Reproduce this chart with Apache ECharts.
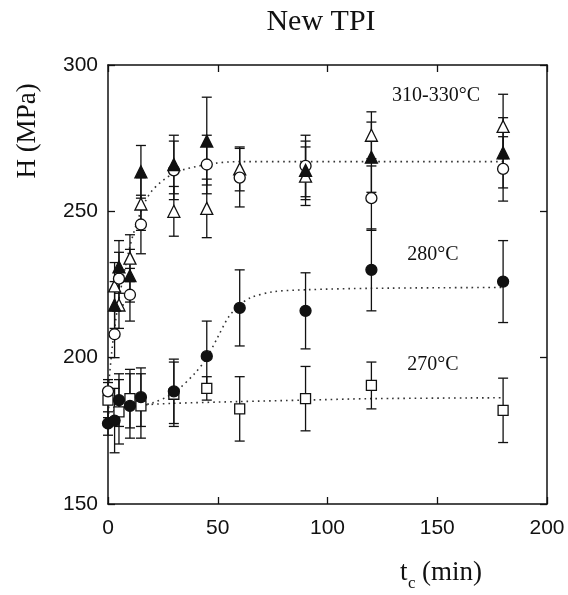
<!DOCTYPE html>
<html><head><meta charset="utf-8">
<script src="https://cdn.jsdelivr.net/npm/echarts@6/dist/echarts.min.js"></script>
<style>html,body{margin:0;padding:0;background:#fff}#c{width:568px;height:595px}</style>
</head><body><div id="c"></div>
<script>
// ---- data ----
const xTicks = [0, 50, 100, 150, 200];
const yTicks = [150, 200, 250, 300];

// 310-330°C, filled triangles
const triFilledX = [3, 5, 10, 15, 30, 45, 90, 120, 180];
const triFilledY = [218, 231, 228, 263.5, 266, 274, 264, 268.5, 270];
const triFilledE = [8, 9, 9, 9, 10, 15, 10, 12, 12];
// 310-330°C, open triangles
const triOpenX = [3, 5, 10, 15, 30, 45, 60, 90, 120, 180];
const triOpenY = [224.5, 218, 234, 252.5, 250, 251, 264.5, 262, 276, 279];
const triOpenE = [8, 8, 8, 9, 8.5, 10, 7.5, 10, 8, 11];
// 310-330°C, open circles
const circOpenX = [0, 3, 5, 10, 15, 30, 45, 60, 90, 120, 180];
const circOpenY = [188.5, 208, 227, 221.5, 245.5, 264, 266, 261.5, 265.5, 254.5, 264.5];
const circOpenE = [4, 8, 9, 9, 10, 10, 10, 10, 10.5, 11, 11];
// 280°C, filled circles
const circFilledX = [0, 3, 5, 10, 15, 30, 45, 60, 90, 120, 180];
const circFilledY = [177.5, 178.5, 185.5, 183.5, 186.5, 188.5, 200.5, 217, 216, 230, 226];
const circFilledE = [4, 11, 9, 11, 10, 11, 12, 13, 13, 14, 14];
// 270°C, open squares
const sqX = [0, 5, 10, 15, 30, 45, 60, 90, 120, 180];
const sqY = [185.5, 181.5, 186, 183.5, 187.5, 189.5, 182.5, 186, 190.5, 182];
const sqE = [6, 11, 10, 11, 11, 4, 11, 11, 8, 11];

// dotted fit curves
const fitHighX = [0, 2, 5, 10, 15, 20, 30, 45, 60, 90, 120, 180];
const fitHighY = [188, 204, 220, 238, 250, 257, 263, 266, 267, 267, 267, 267];
const fitMidX = [0, 10, 20, 30, 40, 45, 50, 55, 60, 65, 75, 90, 120, 180];
const fitMidY = [183, 183.3, 184.5, 188, 195, 200, 207, 214, 218, 220.5, 222.5, 223.2, 223.7, 224];
const fitLowX = [0, 5, 10, 15, 30, 60, 90, 120, 180];
const fitLowY = [181, 182.5, 183.3, 183.8, 184.4, 185, 185.5, 186, 186.3];

const labels = { high: '310-330°C', mid: '280°C', low: '270°C' };

// ---- build ----
const zip2 = (xs, ys) => xs.map((x, i) => [x, ys[i]]);
const zipErr = (xs, ys, es) => xs.map((x, i) => [x, ys[i] - es[i], ys[i] + es[i]]);

function errRender(params, api) {
  const x = api.value(0), lo = api.value(1), hi = api.value(2);
  const p1 = api.coord([x, hi]), p2 = api.coord([x, lo]);
  const w = 5;
  const st = { stroke: '#111', lineWidth: 1.3 };
  return { type: 'group', children: [
    { type: 'line', shape: { x1: p1[0], y1: p1[1], x2: p2[0], y2: p2[1] }, style: st },
    { type: 'line', shape: { x1: p1[0] - w, y1: p1[1], x2: p1[0] + w, y2: p1[1] }, style: st },
    { type: 'line', shape: { x1: p2[0] - w, y1: p2[1], x2: p2[0] + w, y2: p2[1] }, style: st }
  ]};
}
const errSeries = (xs, ys, es) => ({
  type: 'custom', renderItem: errRender, data: zipErr(xs, ys, es),
  encode: { x: 0, y: [1, 2] }, z: 3, clip: false, silent: true
});
const fitSeries = (xs, ys) => ({
  type: 'line', data: zip2(xs, ys), smooth: 0.3, symbol: 'none', z: 2, silent: true,
  lineStyle: { color: '#333', width: 1.6, type: [1.6, 4] }
});
const markSeries = (xs, ys, symbol, size, filled) => ({
  type: 'scatter', data: zip2(xs, ys), symbol: symbol, symbolSize: size, z: 5, clip: false,
  itemStyle: { color: filled ? '#111' : '#fff', borderColor: '#111', borderWidth: 1.3, opacity: 1 }
});

const serif = 'Liberation Serif, Times New Roman, serif';
const sans = 'Liberation Sans, Arial, sans-serif';

const chart = echarts.init(document.getElementById('c'), null, { renderer: 'canvas' });
const axisCommon = {
  axisLine: { show: true, onZero: false, lineStyle: { color: '#111', width: 1.5 } },
  axisTick: { show: true, inside: true, length: 7, lineStyle: { color: '#111', width: 1.3 } },
  splitLine: { show: false }
};
chart.setOption({
  animation: false,
  backgroundColor: '#fff',
  grid: { left: 108, right: 21, top: 65, bottom: 91 },
  xAxis: [
    Object.assign({ type: 'value', min: xTicks[0], max: xTicks[xTicks.length - 1], interval: 50,
      axisLabel: { color: '#111', fontFamily: sans, fontSize: 21, margin: 14 } }, axisCommon),
    Object.assign({ type: 'value', position: 'top', min: xTicks[0], max: xTicks[xTicks.length - 1], interval: 50,
      axisLabel: { show: false } }, axisCommon)
  ],
  yAxis: [
    Object.assign({ type: 'value', min: yTicks[0], max: yTicks[yTicks.length - 1], interval: 50,
      axisLabel: { color: '#111', fontFamily: sans, fontSize: 21, margin: 10 } }, axisCommon),
    Object.assign({ type: 'value', position: 'right', min: yTicks[0], max: yTicks[yTicks.length - 1], interval: 50,
      axisLabel: { show: false } }, axisCommon)
  ],
  series: [
    fitSeries(fitHighX, fitHighY),
    fitSeries(fitMidX, fitMidY),
    fitSeries(fitLowX, fitLowY),
    errSeries(triFilledX, triFilledY, triFilledE),
    errSeries(triOpenX, triOpenY, triOpenE),
    errSeries(circOpenX, circOpenY, circOpenE),
    errSeries(circFilledX, circFilledY, circFilledE),
    errSeries(sqX, sqY, sqE),
    markSeries(sqX, sqY, 'rect', 10, false),
    markSeries(circFilledX, circFilledY, 'circle', 11, true),
    markSeries(triOpenX, triOpenY, 'triangle', 12, false),
    markSeries(circOpenX, circOpenY, 'circle', 11, false),
    markSeries(triFilledX, triFilledY, 'triangle', 12, true)
  ],
  graphic: [
    { type: 'text', position: [321, 22], style: { text: 'New TPI', font: '30px ' + serif, fill: '#111', textAlign: 'center', textVerticalAlign: 'middle' } },
    { type: 'text', position: [28, 131], rotation: Math.PI / 2, style: { text: 'H (MPa)', font: '27px ' + serif, fill: '#111', textAlign: 'center', textVerticalAlign: 'middle' } },
    { type: 'text', position: [400, 573], style: { text: 't', font: '27px ' + serif, fill: '#111', textAlign: 'left', textVerticalAlign: 'middle' } },
    { type: 'text', position: [408, 584], style: { text: 'c', font: '17px ' + serif, fill: '#111', textAlign: 'left', textVerticalAlign: 'middle' } },
    { type: 'text', position: [422, 573], style: { text: '(min)', font: '27px ' + serif, fill: '#111', textAlign: 'left', textVerticalAlign: 'middle' } },
    { type: 'text', position: [436, 96], style: { text: labels.high, font: '20px ' + serif, fill: '#111', textAlign: 'center', textVerticalAlign: 'middle' } },
    { type: 'text', position: [433, 255], style: { text: labels.mid, font: '20px ' + serif, fill: '#111', textAlign: 'center', textVerticalAlign: 'middle' } },
    { type: 'text', position: [433, 365], style: { text: labels.low, font: '20px ' + serif, fill: '#111', textAlign: 'center', textVerticalAlign: 'middle' } }
  ]
});
</script>
</body></html>
